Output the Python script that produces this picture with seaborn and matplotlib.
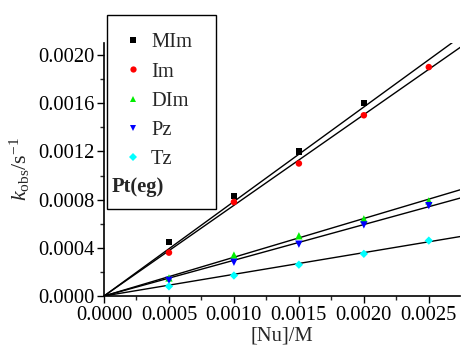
import numpy as np
import pandas as pd
import matplotlib
matplotlib.use("Agg")
import matplotlib.pyplot as plt
import seaborn as sns
from matplotlib.lines import Line2D
from matplotlib.patches import Rectangle
from matplotlib.ticker import FormatStrFormatter, AutoMinorLocator, MultipleLocator

# ---- data ----
conc = [0.0005, 0.0010, 0.0015, 0.0020, 0.0025]
mim = [0.00045, 0.00083, 0.00120, 0.00160, None]
im = [0.00036, 0.00078, 0.00110, 0.00150, 0.00190]
dim = [0.00015, 0.00034, 0.00050, 0.00064, 0.00079]
pz = [0.00013, 0.00028, 0.00043, 0.00059, 0.00075]
tz = [0.00008, 0.00017, 0.00026, 0.00035, 0.00046]
series_names = ["MIm", "Im", "DIm", "Pz", "Tz"]
# fitted slopes (k2, M^-1 s^-1) of the lines through the origin
slopes = [0.7845, 0.7527, 0.3216, 0.2965, 0.1800]
line_x = [0.0, 0.0028]

colors = ["#000000", "#ff0000", "#00ee00", "#0000ff", "#00ffff"]
markers = ["s", "o", "^", "v", "D"]
sizes = [22, 22, 28, 28, 18]

rows = []
for name, vals in zip(series_names, [mim, im, dim, pz, tz]):
    for x, y in zip(conc, vals):
        if y is not None:
            rows.append({"conc": x, "k": y, "series": name})
df = pd.DataFrame(rows)

lrows = []
for name, s in zip(series_names, slopes):
    for x in line_x:
        lrows.append({"conc": x, "k": s * x, "series": name})
ldf = pd.DataFrame(lrows)

sns.set_theme(style="ticks")
plt.rcParams["font.family"] = ["Liberation Serif", "DejaVu Serif"]
plt.rcParams["mathtext.fontset"] = "custom"
plt.rcParams["mathtext.rm"] = "Liberation Serif"
plt.rcParams["mathtext.it"] = "Liberation Serif:italic"

W, H = 461, 348
fig = plt.figure(figsize=(W / 100, H / 100), dpi=100)
ax = fig.add_axes([104 / W, 1 - 296 / H, (460 - 104) / W, (296 - 43) / H])

for name in series_names:
    sns.lineplot(data=ldf[ldf.series == name], x="conc", y="k", color="black",
                 lw=1.0, ax=ax, legend=False)

pal = dict(zip(series_names, colors))
for name, m, sz in zip(series_names, markers, sizes):
    sns.scatterplot(data=df[df.series == name], x="conc", y="k", color=pal[name],
                    marker=m, s=sz, edgecolor="none", ax=ax, legend=False, zorder=3)

ax.set_xlim(0, 0.00274)
ax.set_ylim(0, 0.0021)
ax.xaxis.set_major_locator(MultipleLocator(0.0005))
ax.yaxis.set_major_locator(MultipleLocator(0.0004))
ax.xaxis.set_minor_locator(AutoMinorLocator(2))
ax.yaxis.set_minor_locator(AutoMinorLocator(2))
ax.xaxis.set_major_formatter(FormatStrFormatter("%.4f"))
ax.yaxis.set_major_formatter(FormatStrFormatter("%.4f"))
fs = 14.8
ax.tick_params(axis="both", which="major", direction="out", length=5, width=1.0,
               labelsize=fs, colors="black", pad=2)
ax.tick_params(axis="both", which="minor", direction="out", length=3, width=1.0)
for s in ["top", "right"]:
    ax.spines[s].set_visible(False)
for s in ["left", "bottom"]:
    ax.spines[s].set_linewidth(1.2)
    ax.spines[s].set_color("black")

ax.set_xlabel("[Nu]/M", fontsize=fs, labelpad=1)
ax.set_ylabel(r"$k_{\rm obs}$/s$^{-1}$", fontsize=fs + 1, labelpad=4)

handles = [Line2D([], [], ls="none", marker=m, color=c, markersize=4.5, markeredgewidth=0)
           for m, c in zip(markers, colors)]
leg = fig.legend(handles, series_names, loc="upper left", frameon=False,
                 bbox_to_anchor=(127 / W, 1 - 33 / H), fontsize=fs,
                 handlelength=0.6, handletextpad=0.57, labelspacing=0.48,
                 borderpad=0, borderaxespad=0)
fig.patches.append(Rectangle((107 / W, 1 - 209 / H), (216 - 107) / W, (209 - 15) / H,
                             transform=fig.transFigure, fill=False, ec="black", lw=1.0))
fig.text(112 / W, 1 - 187 / H, "Pt(eg)", fontsize=fs, fontweight="bold",
         va="center", ha="left")

fig.savefig("out.png", dpi=100)
